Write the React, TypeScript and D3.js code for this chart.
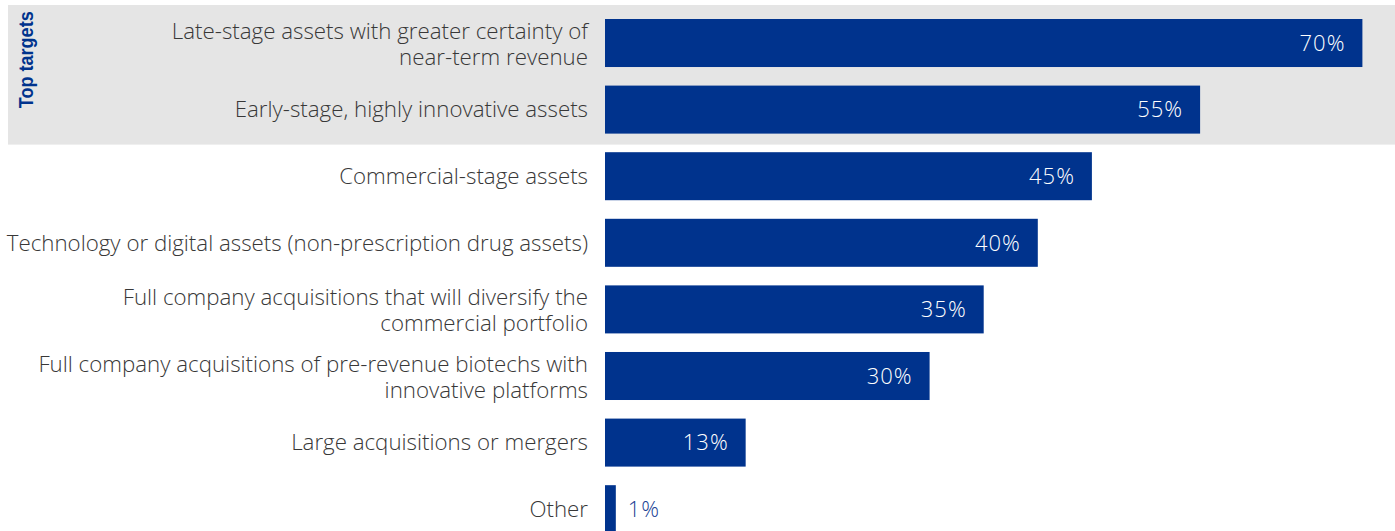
import React, { useEffect, useRef } from "react";
import * as d3 from "d3";

const categories: string[][] = [
  ["Late-stage assets with greater certainty of", "near-term revenue"],
  ["Early-stage, highly innovative assets"],
  ["Commercial-stage assets"],
  ["Technology or digital assets (non-prescription drug assets)"],
  ["Full company acquisitions that will diversify the", "commercial portfolio"],
  ["Full company acquisitions of pre-revenue biotechs with", "innovative platforms"],
  ["Large acquisitions or mergers"],
  ["Other"],
];
const values: number[] = [70, 55, 45, 40, 35, 30, 13, 1];
const highlightCount = 2;
const highlightTitle = "Top targets";

const W = 1395;
const H = 531;
const BLUE = "#00338D";
const FONT = "'Open Sans', sans-serif";

export default function App() {
  const ref = useRef<SVGSVGElement | null>(null);

  useEffect(() => {
    const svg = d3.select(ref.current);
    svg.selectAll("*").remove();

    const keys = categories.map((c) => c.join(" "));
    const y = d3.scaleBand<string>().domain(keys).range([19, 533.2]).paddingInner(0.279).paddingOuter(0);
    const x = d3.scaleLinear().domain([0, 100]).range([605, 605 + 1082]);
    const bw = y.bandwidth();

    const top = (y(keys[0]) as number) - 14;
    const bottom = (y(keys[highlightCount - 1]) as number) + bw + 11;
    svg.append("rect").attr("x", 8).attr("y", top).attr("width", W - 8).attr("height", bottom - top).attr("fill", "#e5e5e5");

    svg
      .append("text")
      .attr("transform", `translate(33,${(top + bottom) / 2 - 15}) rotate(-90)`)
      .attr("text-anchor", "middle")
      .attr("font-family", "'Liberation Sans', Arial, sans-serif")
      .attr("font-weight", "bold")
      .attr("font-size", 20)
      .attr("textLength", 97)
      .attr("lengthAdjust", "spacingAndGlyphs")
      .attr("fill", BLUE)
      .text(highlightTitle);

    const g = svg.selectAll("g.row").data(keys).enter().append("g").attr("class", "row");

    g.append("rect")
      .attr("x", x(0))
      .attr("y", (d) => y(d) as number)
      .attr("width", (_d, i) => x(values[i]) - x(0))
      .attr("height", bw)
      .attr("fill", BLUE);

    g.each(function (d, i) {
      const lines = categories[i];
      const cy = (y(d) as number) + bw / 2;
      const lh = 26;
      const t = d3
        .select(this)
        .append("text")
        .attr("text-anchor", "end")
        .attr("font-family", FONT)
        .attr("font-weight", 300)
        .attr("font-size", 22.3)
        .attr("fill", "#383838");
      lines.forEach((ln, j) => {
        t.append("tspan")
          .attr("x", 588)
          .attr("y", cy + (j - (lines.length - 1) / 2) * lh)
          .attr("dy", lines.length > 1 ? "0.39em" : "0.35em")
          .text(ln);
      });
    });

    g.append("text")
      .attr("x", (_d, i) => (values[i] < 5 ? x(values[i]) + 12 : x(values[i]) - 17))
      .attr("y", (d) => (y(d) as number) + bw / 2)
      .attr("dy", "0.35em")
      .attr("text-anchor", (_d, i) => (values[i] < 5 ? "start" : "end"))
      .attr("font-family", FONT)
      .attr("font-weight", 300)
      .attr("font-size", 22)
      .attr("letter-spacing", 1)
      .attr("fill", (_d, i) => (values[i] < 5 ? "#1a3f94" : "#ffffff"))
      .text((_d, i) => `${values[i]}%`);
  }, []);

  return (
    <svg
      ref={ref}
      width={W}
      height={H}
      style={{ position: "absolute", left: 0, top: 0, background: "#fff", display: "block" }}
    />
  );
}
